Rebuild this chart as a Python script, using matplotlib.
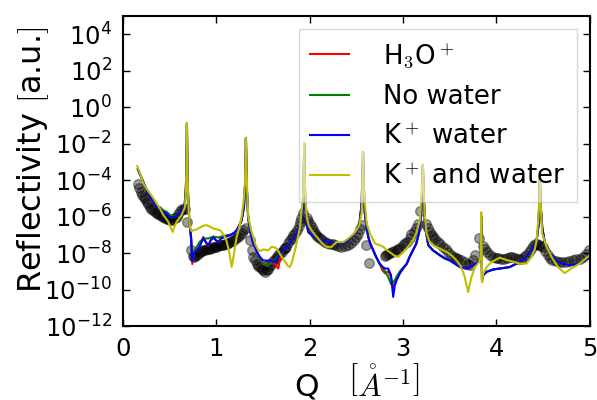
import numpy as np
import matplotlib
matplotlib.use("Agg")
import matplotlib.pyplot as plt
from matplotlib.ticker import NullLocator

plt.rcParams['mathtext.fontset'] = 'cm'
plt.rcParams['font.family'] = 'DejaVu Sans'

# measured data (log10 of reflectivity)
q_data = [0.16, 0.175, 0.19, 0.205, 0.22, 0.235, 0.255, 0.27, 0.29, 0.305, 0.325, 0.34,
          0.36, 0.38, 0.40, 0.415, 0.43, 0.45, 0.47, 0.485, 0.505, 0.52, 0.54, 0.555,
          0.575, 0.59, 0.61, 0.63, 0.65, 0.665, 0.685, 0.728, 0.745, 0.76, 0.775, 0.79,
          0.81, 0.825, 0.845, 0.86, 0.88, 0.895, 0.915, 0.93, 0.95, 0.965, 0.985, 1.0,
          1.02, 1.04, 1.06, 1.075, 1.095, 1.11, 1.13, 1.15, 1.17, 1.19, 1.21, 1.23,
          1.253, 1.27, 1.288, 1.32, 1.36, 1.38, 1.395, 1.41, 1.43, 1.45, 1.467, 1.485,
          1.50, 1.52, 1.54, 1.556, 1.575, 1.59, 1.61, 1.63, 1.646, 1.665, 1.68, 1.70,
          1.72, 1.735, 1.75, 1.77, 1.79, 1.805, 1.82, 1.84, 1.86, 1.88, 1.895, 1.91,
          1.93, 1.97, 1.985, 2.0, 2.02, 2.04, 2.055, 2.07, 2.09, 2.11, 2.135, 2.16,
          2.19, 2.22, 2.245, 2.27, 2.30, 2.34, 2.375, 2.41, 2.44, 2.47, 2.495, 2.52,
          2.54, 2.556, 2.6, 2.63, 2.805, 2.82, 2.84, 2.86, 2.88, 2.90, 2.93, 2.95,
          2.97, 3.0, 3.02, 3.04, 3.07, 3.09, 3.12, 3.14, 3.16, 3.18, 3.25, 3.27,
          3.29, 3.305, 3.32, 3.345, 3.37, 3.40, 3.43, 3.455, 3.48, 3.51, 3.54, 3.565,
          3.59, 3.625, 3.66, 3.69, 3.72, 3.745, 3.77, 3.815, 3.86, 3.88, 3.90, 3.93,
          3.96, 3.99, 4.02, 4.05, 4.08, 4.11, 4.14, 4.17, 4.20, 4.23, 4.26, 4.29,
          4.32, 4.345, 4.375, 4.395, 4.41, 4.435, 4.46, 4.48, 4.50, 4.525, 4.55, 4.575,
          4.6, 4.635, 4.67, 4.705, 4.74, 4.78, 4.82, 4.855, 4.89, 4.925, 4.96, 4.99]
r_data = [-4.2, -4.45, -4.64, -4.8, -4.92, -5.05, -5.2, -5.33, -5.47, -5.56, -5.65, -5.74,
          -5.83, -5.88, -5.93, -5.98, -6.02, -6.06, -6.11, -6.15, -6.2, -6.16, -6.11, -6.06,
          -6.02, -5.85, -5.68, -5.58, -5.56, -5.6, -6.29, -7.85, -8.15, -8.2, -8.15, -8.1,
          -8.0, -7.94, -7.9, -7.85, -7.82, -7.8, -7.78, -7.76, -7.7, -7.66, -7.66, -7.66,
          -7.6, -7.57, -7.57, -7.57, -7.52, -7.48, -7.45, -7.4, -7.35, -7.3, -7.2, -7.1,
          -7.0, -6.9, -6.75, -6.65, -7.3, -7.85, -8.2, -8.4, -8.58, -8.7, -8.77, -8.88,
          -8.95, -9.04, -8.95, -8.85, -8.7, -8.58, -8.45, -8.3, -8.21, -8.1, -8.0, -7.94,
          -7.8, -7.72, -7.66, -7.45, -7.3, -7.15, -7.02, -6.9, -6.75, -6.5, -6.29, -6.05,
          -5.83, -6.1, -6.25, -6.38, -6.55, -6.75, -6.9, -7.02, -7.1, -7.2, -7.3, -7.39,
          -7.44, -7.48, -7.52, -7.57, -7.62, -7.66, -7.62, -7.57, -7.45, -7.3, -7.1, -6.93,
          -6.7, -6.47, -7.57, -8.55, -8.15, -8.1, -8.03, -7.97, -7.94, -7.9, -7.85, -7.78,
          -7.72, -7.57, -7.45, -7.39, -7.2, -6.95, -6.84, -6.6, -6.4, -5.7, -6.38, -6.6,
          -6.84, -7.0, -7.12, -7.25, -7.39, -7.52, -7.66, -7.8, -7.94, -8.08, -8.21, -8.26,
          -8.3, -8.4, -8.49, -8.58, -8.67, -8.4, -8.12, -7.2, -7.6, -7.8, -7.94, -8.1,
          -8.21, -8.25, -8.28, -8.3, -8.3, -8.25, -8.21, -8.24, -8.28, -8.3, -8.3, -8.22,
          -8.12, -7.95, -7.75, -7.6, -7.48, -7.5, -7.57, -7.6, -7.66, -7.9, -8.12, -8.28,
          -8.4, -8.45, -8.49, -8.49, -8.49, -8.45, -8.4, -8.35, -8.3, -8.2, -8.03, -7.85]

# model curves on a shared grid (log10 values)
q_model = [0.16, 0.20, 0.25, 0.29, 0.33, 0.36, 0.40, 0.43, 0.47, 0.50, 0.53, 0.56,
           0.60, 0.63, 0.66, 0.673, 0.681, 0.685, 0.689, 0.697, 0.71, 0.73, 0.742, 0.76,
           0.79, 0.82, 0.86, 0.89, 0.914, 0.94, 0.967, 0.995, 1.02, 1.05, 1.09, 1.146,
           1.19, 1.217, 1.25, 1.27, 1.295, 1.308, 1.313, 1.317, 1.321, 1.328, 1.34, 1.36,
           1.39, 1.413, 1.44, 1.467, 1.50, 1.54, 1.574, 1.60, 1.627, 1.663, 1.69, 1.716,
           1.75, 1.788, 1.82, 1.86, 1.89, 1.913, 1.925, 1.935, 1.941, 1.947, 1.955, 1.97,
           1.984, 2.02, 2.056, 2.09, 2.127, 2.17, 2.216, 2.25, 2.288, 2.32, 2.36, 2.40,
           2.43, 2.47, 2.50, 2.53, 2.55, 2.562, 2.571, 2.58, 2.59, 2.61, 2.627, 2.65,
           2.68, 2.71, 2.75, 2.78, 2.805, 2.84, 2.87, 2.894, 2.91, 2.93, 2.966, 3.0,
           3.04, 3.07, 3.10, 3.14, 3.17, 3.19, 3.203, 3.212, 3.221, 3.235, 3.27, 3.32,
           3.394, 3.45, 3.50, 3.56, 3.61, 3.68, 3.75, 3.80, 3.83, 3.838, 3.845, 3.86,
           3.894, 3.965, 4.07, 4.14, 4.215, 4.28, 4.32, 4.39, 4.43, 4.45, 4.458, 4.465,
           4.472, 4.49, 4.52, 4.56, 4.60, 4.65, 4.70, 4.786, 4.875, 4.93, 4.98, 5.0]
r_kwater = [-3.4, -3.9, -4.5, -4.92, -5.2, -5.47, -5.6, -5.74, -5.85, -6.02, -6.05, -6.0,
            -5.85, -5.65, -5.4, -4.5, -3.0, -0.9, -3.0, -4.8, -6.2, -7.2, -8.45, -8.0,
            -7.85, -7.66, -7.2, -7.4, -7.57, -7.3, -7.15, -7.3, -7.39, -7.2, -7.11, -7.02,
            -6.9, -6.75, -6.45, -6.2, -5.5, -4.2, -3.0, -1.7, -3.0, -4.6, -6.0, -6.75,
            -7.4, -7.66, -8.0, -8.21, -8.4, -8.42, -8.4, -8.45, -8.49, -8.21, -8.0, -7.85,
            -7.7, -7.48, -7.2, -6.93, -6.5, -6.2, -5.6, -4.0, -2.0, -4.0, -5.6, -6.4,
            -6.84, -7.0, -7.12, -7.2, -7.3, -7.35, -7.39, -7.42, -7.44, -7.46, -7.48, -7.35,
            -7.2, -7.0, -6.84, -6.5, -5.6, -4.3, -2.46, -4.3, -5.8, -6.6, -7.12, -7.5,
            -7.85, -8.2, -8.58, -8.75, -8.85, -8.85, -9.2, -10.4, -9.8, -9.5, -9.1, -8.85,
            -8.58, -8.21, -7.9, -7.5, -6.9, -6.0, -4.8, -3.17, -4.8, -6.5, -7.57, -7.85,
            -8.12, -8.3, -8.4, -8.6, -8.77, -8.85, -8.67, -8.49, -8.4, -6.0, -9.5, -9.2,
            -9.03, -8.9, -8.82, -8.77, -8.58, -8.4, -8.21, -7.75, -7.3, -6.5, -5.3, -3.89,
            -5.3, -6.6, -7.5, -7.95, -8.21, -8.45, -8.58, -8.67, -8.58, -8.45, -8.3, -8.2]
r_h3o = [-3.4, -3.9, -4.5, -4.92, -5.2, -5.47, -5.6, -5.74, -5.85, -6.02, -6.05, -6.0,
         -5.85, -5.65, -5.4, -4.5, -3.0, -0.9, -3.0, -4.8, -6.2, -7.2, -8.6, -8.0,
         -7.85, -7.6, -7.12, -7.45, -7.6, -7.3, -7.1, -7.3, -7.4, -7.2, -7.1, -7.02,
         -6.9, -6.75, -6.45, -6.2, -5.5, -4.2, -3.0, -1.7, -3.0, -4.6, -6.0, -6.75,
         -7.4, -7.66, -8.0, -8.3, -8.62, -8.45, -8.4, -8.5, -8.6, -8.85, -8.1, -7.85,
         -7.7, -7.48, -7.2, -6.93, -6.5, -6.2, -5.6, -4.0, -2.0, -4.0, -5.6, -6.4,
         -6.84, -7.0, -7.12, -7.2, -7.3, -7.35, -7.39, -7.42, -7.44, -7.46, -7.48, -7.35,
         -7.2, -7.0, -6.84, -6.5, -5.6, -4.3, -2.46, -4.3, -5.8, -6.6, -7.12, -7.5,
         -7.85, -8.2, -8.6, -8.95, -9.1, -9.0, -9.3, -9.9, -9.7, -9.45, -9.1, -8.85,
         -8.58, -8.21, -7.9, -7.5, -6.9, -6.0, -4.8, -3.17, -4.8, -6.5, -7.57, -7.85,
         -8.12, -8.3, -8.4, -8.6, -8.77, -8.85, -8.67, -8.49, -8.4, -6.0, -9.5, -9.2,
         -9.03, -8.9, -8.82, -8.77, -8.58, -8.4, -8.21, -7.75, -7.3, -6.5, -5.3, -3.89,
         -5.3, -6.6, -7.5, -7.95, -8.21, -8.45, -8.58, -8.67, -8.58, -8.45, -8.3, -8.2]
r_nowater = [-3.4, -3.9, -4.5, -4.9, -5.15, -5.4, -5.5, -5.65, -5.75, -5.9, -5.98, -5.95,
             -5.85, -5.65, -5.4, -4.5, -3.0, -0.9, -3.0, -4.8, -6.2, -7.2, -8.3, -7.9,
             -7.66, -7.4, -7.2, -7.2, -7.2, -7.15, -7.1, -7.12, -7.15, -7.1, -7.05, -7.0,
             -6.9, -6.75, -6.45, -6.2, -5.5, -4.2, -3.0, -1.7, -3.0, -4.6, -6.0, -6.75,
             -7.4, -7.66, -8.0, -8.3, -8.55, -8.72, -8.6, -8.45, -8.4, -8.15, -8.0, -7.85,
             -7.7, -7.48, -7.2, -6.93, -6.5, -6.2, -5.6, -4.0, -2.0, -4.0, -5.6, -6.4,
             -6.84, -7.0, -7.12, -7.2, -7.3, -7.35, -7.39, -7.42, -7.44, -7.46, -7.48, -7.35,
             -7.2, -7.0, -6.84, -6.5, -5.6, -4.3, -2.46, -4.3, -5.8, -6.6, -7.12, -7.5,
             -7.85, -8.2, -8.6, -8.8, -9.0, -9.3, -9.7, -9.6, -9.5, -9.3, -9.0, -8.8,
             -8.58, -8.21, -7.9, -7.5, -6.9, -6.0, -4.8, -3.17, -4.8, -6.5, -7.57, -7.85,
             -8.12, -8.3, -8.4, -8.6, -8.77, -8.85, -8.67, -8.49, -8.4, -6.0, -9.5, -9.2,
             -9.03, -8.9, -8.82, -8.77, -8.58, -8.4, -8.21, -7.75, -7.3, -6.5, -5.3, -3.89,
             -5.3, -6.6, -7.5, -7.95, -8.21, -8.45, -8.58, -8.67, -8.58, -8.45, -8.3, -8.2]

# K+ and water model, own grid
q_kandw = [0.153, 0.18, 0.218, 0.25, 0.289, 0.32, 0.36, 0.40, 0.432, 0.46, 0.485, 0.51,
           0.532, 0.555, 0.575, 0.60, 0.628, 0.664, 0.675, 0.681, 0.685, 0.689, 0.695, 0.705,
           0.717, 0.735, 0.753, 0.79, 0.824, 0.86, 0.896, 0.93, 0.967, 1.0, 1.04, 1.08,
           1.11, 1.14, 1.164, 1.19, 1.217, 1.245, 1.27, 1.295, 1.306, 1.312, 1.317, 1.322,
           1.33, 1.342, 1.37, 1.395, 1.42, 1.449, 1.475, 1.502, 1.53, 1.556, 1.575, 1.592,
           1.62, 1.646, 1.67, 1.70, 1.74, 1.765, 1.788, 1.81, 1.842, 1.87, 1.895, 1.915,
           1.932, 1.937, 1.941, 1.945, 1.95, 1.967, 1.99, 2.02, 2.055, 2.09, 2.13, 2.18,
           2.234, 2.265, 2.29, 2.325, 2.36, 2.40, 2.43, 2.47, 2.50, 2.53, 2.556, 2.562,
           2.567, 2.571, 2.575, 2.58, 2.61, 2.645, 2.70, 2.74, 2.787, 2.83, 2.877, 2.91,
           2.948, 2.98, 3.02, 3.07, 3.11, 3.14, 3.18, 3.195, 3.203, 3.212, 3.219, 3.23,
           3.25, 3.28, 3.32, 3.36, 3.394, 3.43, 3.466, 3.50, 3.536, 3.575, 3.61, 3.64,
           3.66, 3.697, 3.715, 3.733, 3.77, 3.815, 3.83, 3.838, 3.846, 3.86, 3.894, 3.947,
           4.0, 4.036, 4.09, 4.14, 4.20, 4.25, 4.32, 4.375, 4.41, 4.43, 4.45, 4.458,
           4.465, 4.472, 4.49, 4.536, 4.59, 4.66, 4.73, 4.80, 4.89, 4.98, 5.0]
r_kandw = [-3.23, -3.6, -4.18, -4.45, -4.73, -4.95, -5.28, -5.6, -5.92, -6.1, -6.29, -6.6,
           -6.84, -6.5, -6.29, -6.1, -5.92, -5.47, -4.5, -3.0, -0.87, -3.0, -4.5, -5.8,
           -6.6, -6.8, -6.75, -6.7, -6.6, -6.5, -6.47, -6.55, -6.65, -6.7, -6.75, -7.0,
           -7.35, -8.0, -8.77, -8.0, -7.12, -6.6, -6.02, -5.0, -4.2, -3.0, -1.69, -3.0,
           -4.6, -6.02, -6.7, -7.12, -7.55, -7.85, -7.88, -7.81, -7.82, -7.85, -7.75, -7.66,
           -7.68, -7.75, -7.95, -8.21, -8.5, -8.7, -8.77, -8.5, -7.85, -7.2, -6.57, -5.6,
           -4.6, -3.4, -1.97, -3.4, -4.6, -6.02, -6.5, -6.75, -7.0, -7.2, -7.45, -7.66,
           -7.66, -7.5, -7.39, -7.4, -7.39, -7.25, -7.12, -6.95, -6.75, -6.5, -5.8, -4.6,
           -3.5, -2.46, -3.5, -4.6, -6.38, -6.93, -7.48, -7.55, -7.66, -7.85, -8.03, -8.15,
           -8.21, -8.05, -7.85, -7.55, -7.25, -6.93, -6.2, -5.0, -4.3, -3.17, -4.3, -5.8,
           -6.9, -7.35, -7.57, -7.68, -7.75, -7.85, -7.94, -8.05, -8.21, -8.42, -8.67, -9.0,
           -9.31, -10.14, -9.7, -9.31, -8.77, -8.49, -8.2, -5.76, -9.6, -9.1, -8.77, -8.49,
           -8.35, -8.25, -8.35, -8.42, -8.5, -8.58, -8.58, -8.21, -7.8, -7.3, -6.0, -5.2,
           -3.89, -5.2, -6.93, -7.66, -8.21, -8.77, -9.1, -8.85, -8.58, -8.21, -8.1]

fig = plt.figure(figsize=(5.97, 4.0), dpi=100)
ax = fig.add_axes([0.206, 0.185, 0.782, 0.775])

ax.scatter(q_data, np.power(10.0, r_data), s=48, c='k', alpha=0.38, zorder=1)
ax.plot(q_model, np.power(10.0, r_h3o), color='r', lw=1.5, label='H$_3$O$^+$')
ax.plot(q_model, np.power(10.0, r_nowater), color='g', lw=1.5, label='No water')
ax.plot(q_model, np.power(10.0, r_kwater), color='b', lw=1.5, label='K$^+$ water')
ax.plot(q_kandw, np.power(10.0, r_kandw), color='y', lw=1.5, label='K$^+$ and water')

ax.set_yscale('log')
ax.set_xlim(0, 5)
ax.set_ylim(1e-12, 1e5)
ax.set_yticks([10.0 ** k for k in range(-12, 5, 2)])
ax.yaxis.set_minor_locator(NullLocator())
ax.set_xticks([0, 1, 2, 3, 4, 5])
ax.tick_params(direction='in', top=True, right=True, length=5, width=1, labelsize=17.5, pad=8)
for sp in ax.spines.values():
    sp.set_linewidth(1.5)

ax.set_xlabel(r'Q   $\left[\mathring{A}^{-1}\right]$', fontsize=22.5, labelpad=0)
ax.set_ylabel(r'Reflectivity $[$a.u.$]$', fontsize=23)
ax.yaxis.set_label_coords(-0.155, 0.535)

leg = ax.legend(loc='upper right', bbox_to_anchor=(0.972, 0.958), borderaxespad=0,
                fontsize=18.7, fancybox=False, framealpha=0.5, handlelength=1.5,
                handletextpad=1.3, borderpad=0.45, labelspacing=0.55)
leg.get_frame().set_edgecolor('0.7')

fig.savefig('out.png', dpi=100)
